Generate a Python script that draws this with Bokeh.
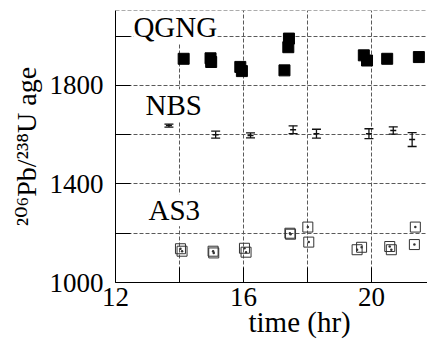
from bokeh.plotting import figure
from bokeh.models import Label, Whisker, ColumnDataSource, FixedTicker, Span, TeeHead, Title
from bokeh.embed import file_html
from bokeh.resources import INLINE

# ---- data ----
qgng_t = [14.13, 14.97, 14.99, 15.90, 15.95, 17.42, 17.40, 17.28, 19.76, 19.86, 20.49, 21.48]
qgng_age = [1908, 1910, 1895, 1875, 1858, 1990, 1955, 1861, 1922, 1901, 1908, 1915]

nbs_t = [13.67, 15.13, 16.22, 17.55, 18.28, 19.92, 20.68, 21.27]
nbs_age = [1637, 1600, 1597, 1620, 1604, 1604, 1617, 1580]
nbs_err = [6, 14, 10, 16, 18, 20, 15, 28]

as3_t = [14.03, 14.08, 15.05, 15.07, 16.03, 16.08, 17.45, 17.47, 18.01, 18.04, 19.55, 19.69, 20.57, 20.62, 21.37, 21.34]
as3_age = [1137, 1127, 1127, 1120, 1139, 1123, 1200, 1196, 1225, 1164, 1133, 1143, 1146, 1133, 1225, 1154]

x_ticks = [12, 14, 16, 18, 20]
x_tick_labels = ["12", "", "16", "", "20"]
y_ticks = [1000, 1200, 1400, 1600, 1800, 2000]
y_tick_labels = ["1000", "", "1400", "", "1800", ""]

series_names = ["QGNG", "NBS", "AS3"]
name_pos = [(12.56, 2036), (12.94, 1719), (13.03, 1293)]

x_title = "time (hr)"
y_title = "²⁰⁶Pb/²³⁸U age"

X0, X1 = 12, 21.75
Y0, Y1 = 1000, 2104

FONT = "Liberation Serif"
FONT_Y = "Liberation Serif, DejaVu Serif, serif"
GRID = "#5a5a5a"

p = figure(width=427, height=341, x_range=(X0, X1), y_range=(Y0, Y1),
           output_backend="svg", toolbar_location=None,
           min_border_left=115, min_border_right=0, min_border_top=10, min_border_bottom=59)
p.background_fill_color = "white"
p.border_fill_color = "white"
p.outline_line_color = None

for g, t in ((p.xgrid, x_ticks), (p.ygrid, y_ticks)):
    g.ticker = FixedTicker(ticks=t)
    g.grid_line_color = GRID
    g.grid_line_width = 1
    g.grid_line_dash = "4 2"

p.add_layout(Span(location=Y1, dimension="width", line_color=GRID, line_width=1, line_dash="4 2"))

for ax, t, lab in ((p.xaxis[0], x_ticks, x_tick_labels), (p.yaxis[0], y_ticks, y_tick_labels)):
    ax.ticker = FixedTicker(ticks=t)
    ax.major_label_overrides = {k: v for k, v in zip(t, lab)}
    ax.major_tick_in = 15
    ax.major_tick_out = 0
    ax.minor_tick_line_color = None
    ax.axis_line_color = "black"
    ax.major_tick_line_color = "black"
    ax.major_label_text_font = FONT
    ax.major_label_text_font_size = "27px"
    ax.major_label_text_color = "black"
p.yaxis[0].major_label_standoff = 12
p.xaxis[0].major_label_standoff = 5

p.yaxis[0].axis_label = y_title
p.yaxis[0].axis_label_text_font = FONT_Y
p.yaxis[0].axis_label_text_font_size = "28px"
p.yaxis[0].axis_label_text_font_style = "normal"
p.yaxis[0].axis_label_text_color = "black"
p.yaxis[0].axis_label_standoff = 5

p.add_layout(Title(text=x_title, align="left", offset=133, vertical_align="top",
                   standoff=-6, text_font=FONT, text_font_size="29px",
                   text_font_style="normal", text_color="black"), "below")

# AS3 open squares
p.scatter(as3_t, as3_age, marker="square_dot", size=10, fill_color=None,
          line_color="#333333", line_width=1)

# NBS error bars
src = ColumnDataSource(dict(x=nbs_t, y=nbs_age,
                            lo=[a - e for a, e in zip(nbs_age, nbs_err)],
                            hi=[a + e for a, e in zip(nbs_age, nbs_err)]))
p.add_layout(Whisker(source=src, base="x", lower="lo", upper="hi", dimension="height",
                     line_color="#111111", line_width=1.3,
                     lower_head=TeeHead(size=9, line_color="#111111", line_width=1.3),
                     upper_head=TeeHead(size=9, line_color="#111111", line_width=1.3)))
p.scatter("x", "y", source=src, marker="dash", size=6, line_color="#111111", line_width=1.5)

# QGNG filled squares
p.scatter(qgng_t, qgng_age, marker="square", size=11, fill_color="black", line_color="black")

# series names
for name, (lx, ly) in zip(series_names, name_pos):
    p.add_layout(Label(x=lx, y=ly, text=name, text_font=FONT, text_font_size="29px",
                       text_color="black", text_baseline="alphabetic", text_align="left",
                       background_fill_color="white"))

open("out.html", "w").write(file_html(p, INLINE))
